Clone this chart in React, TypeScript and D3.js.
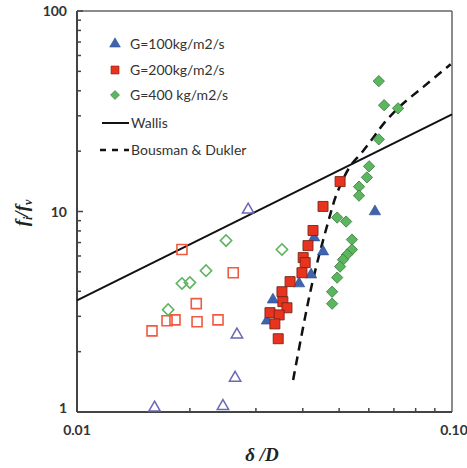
import React from "react";
import * as d3 from "d3";

// ---- data (δ/D, f_i/f_v) ----
const g100Filled: [number, number][] = [
  [0.0623, 10.0], [0.0453, 6.31], [0.0429, 7.41], [0.0421, 4.84], [0.0391, 4.37], [0.0333, 3.63], [0.0321, 2.85],
];
const g100Open: [number, number][] = [
  [0.0286, 10.2], [0.0267, 2.43], [0.0264, 1.48], [0.0161, 1.05], [0.0245, 1.07],
];
const g200Filled: [number, number][] = [
  [0.0503, 14.1], [0.0453, 10.6], [0.0426, 8.04], [0.0413, 6.76], [0.0401, 5.89], [0.0406, 5.56], [0.0398, 4.95],
  [0.037, 4.47], [0.0352, 3.98], [0.0354, 3.55], [0.0363, 3.31], [0.0327, 3.13], [0.0346, 3.05], [0.0337, 2.75], [0.0344, 2.32],
];
const g200Open: [number, number][] = [
  [0.01905, 6.46], [0.0261, 4.95], [0.0208, 3.47], [0.01585, 2.54], [0.01738, 2.85], [0.01825, 2.88], [0.0209, 2.82], [0.02377, 2.88],
];
const g400Filled: [number, number][] = [
  [0.0638, 44.7], [0.0659, 33.9], [0.0718, 32.7], [0.0638, 22.9], [0.0601, 16.8], [0.0593, 14.8], [0.0565, 13.3], [0.0565, 12.0],
  [0.0494, 9.33], [0.0522, 8.91], [0.0541, 7.24], [0.0541, 6.46], [0.0525, 6.1], [0.0512, 5.75], [0.0503, 5.31], [0.0494, 4.68],
  [0.0479, 3.98], [0.0479, 3.47],
];
const g400Open: [number, number][] = [
  [0.02497, 7.16], [0.0352, 6.46], [0.02208, 5.07], [0.01905, 4.37], [0.02, 4.42], [0.0175, 3.24],
];
const wallisLine: [number, number][] = [[0.01, 3.6], [0.1, 30.5]];
const bousmanLine: [number, number][] = [
  [0.0377, 1.445], [0.0406, 2.99], [0.0426, 4.57], [0.0467, 8.81], [0.0494, 12.4], [0.0535, 16.8], [0.0575, 19.7],
  [0.0612, 22.9], [0.0655, 27.2], [0.0727, 33.5], [0.0837, 41.7], [0.0992, 54.3],
];
const yTickLabels = ["1", "10", "100"];
const yTickValues = [1, 10, 100];
const xTickLabels = ["0.01", "0.10"];
const xTickValues = [0.01, 0.1];
const legendLabels = ["G=100kg/m2/s", "G=200kg/m2/s", "G=400 kg/m2/s", "Wallis", "Bousman & Dukler"];

const BLUE = "#3f63ad";
const RED = "#e8341f";
const GREEN = "#5cb660";
const OPEN_BLUE = "#6a66b8";
const OPEN_RED = "#ef5a40";
const OPEN_GREEN = "#5fb463";

export default function App() {
  const W = 467, H = 468;
  const L = 77, R = 452, T = 11, B = 412;
  const x = d3.scaleLog().domain([0.01, 0.1]).range([L, R]);
  const y = d3.scaleLog().domain([1, 100]).range([B, T]);
  const line = d3.line<[number, number]>().x(d => x(d[0])).y(d => y(d[1]));
  const curve = d3.line<[number, number]>().x(d => x(d[0])).y(d => y(d[1])).curve(d3.curveCatmullRom.alpha(0.5));

  const tri = d3.symbol().type(d3.symbolTriangle).size(56)()!;
  const sq = d3.symbol().type(d3.symbolSquare).size(100)()!;
  const dia = d3.symbol().type(d3.symbolSquare).size(64)()!;

  const minorX: number[] = [];
  for (let k = 2; k <= 9; k++) minorX.push(k * 0.01);
  const minorY: number[] = [];
  for (const dec of [1, 10]) for (let k = 2; k <= 9; k++) minorY.push(k * dec);

  const font = "Lato, 'Open Sans', sans-serif";

  const pts = (data: [number, number][], path: string, fill: string, stroke: string, sw: number, rot = 0) =>
    data.map((d, i) => (
      <path key={i} d={path} fill={fill} stroke={stroke} strokeWidth={sw}
        transform={`translate(${x(d[0])},${y(d[1])})${rot ? ` rotate(${rot})` : ""}`} />
    ));

  return (
    <svg width={W} height={H} style={{ position: "absolute", left: 0, top: 0, background: "#fff" }}>
      <rect x={0} y={0} width={W} height={H} fill="#fff" />
      {/* frame */}
      <line x1={L} y1={T} x2={R} y2={T} stroke="#666" strokeWidth={1.5} />
      <line x1={R} y1={T} x2={R} y2={B} stroke="#666" strokeWidth={1.5} />
      <line x1={L} y1={T} x2={L} y2={B} stroke="#444" strokeWidth={2} />
      <line x1={L} y1={B} x2={R} y2={B} stroke="#444" strokeWidth={2} />
      {/* ticks */}
      {minorX.map((v, i) => <line key={"mx" + i} x1={x(v)} x2={x(v)} y1={B} y2={B - 4} stroke="#444" strokeWidth={1.5} />)}
      {minorY.map((v, i) => <line key={"my" + i} x1={L} x2={L + 4} y1={y(v)} y2={y(v)} stroke="#444" strokeWidth={1.5} />)}
      {yTickValues.map((v, i) => <line key={"My" + i} x1={L} x2={L + 6} y1={y(v)} y2={y(v)} stroke="#444" strokeWidth={1.5} />)}
      {yTickValues.map((v, i) => (
        <text key={"yl" + i} x={L - 10} y={y(v) + (i === 0 ? 1 : 5)} textAnchor="end" fontFamily={font} fontWeight={700} fontSize={14} fill="#333">{yTickLabels[i]}</text>
      ))}
      {xTickValues.map((v, i) => (
        <text key={"xl" + i} x={x(v) + (i === 0 ? 0 : 2)} y={B + 23} textAnchor="middle" fontFamily={font} fontWeight={700} fontSize={14} fill="#333">{xTickLabels[i]}</text>
      ))}
      {/* axis titles */}
      <text x={262} y={461} textAnchor="middle" fontFamily="'Liberation Serif', serif" fontStyle="italic" fontWeight={700} fontSize={19} fill="#222">δ /D</text>
      <text transform="translate(28,213) rotate(-90)" textAnchor="middle" fontFamily="'Liberation Serif', serif" fontStyle="italic" fontWeight={700} fontSize={19} fill="#222">
        f<tspan fontSize={12} dy={4}>i</tspan><tspan dy={-4}>/f</tspan><tspan fontSize={12} dy={4}>v</tspan>
      </text>
      {/* lines */}
      <path d={line(wallisLine)!} fill="none" stroke="#111" strokeWidth={2} />
      <path d={curve(bousmanLine)!} fill="none" stroke="#111" strokeWidth={2.5} strokeDasharray="9 6" />
      {/* open markers */}
      {pts(g100Open, tri, "none", OPEN_BLUE, 1.5)}
      {pts(g200Open, sq, "none", OPEN_RED, 1.6)}
      {pts(g400Open, dia, "none", OPEN_GREEN, 1.6, 45)}
      {/* filled markers */}
      {pts(g400Filled, dia, GREEN, "#3d7d3f", 0.8, 45)}
      {pts(g100Filled, tri, BLUE, "#2a4a8a", 0.6)}
      {pts(g200Filled, sq, RED, "#7a2418", 0.9)}
      {/* legend */}
      <path d={d3.symbol().type(d3.symbolTriangle).size(50)()!} transform="translate(115,44)" fill={BLUE} stroke="#2a4a8a" strokeWidth={0.5} />
      <path d={d3.symbol().type(d3.symbolSquare).size(64)()!} transform="translate(115,70)" fill={RED} stroke="#7a2418" strokeWidth={0.6} />
      <path d={d3.symbol().type(d3.symbolSquare).size(40)()!} transform="translate(115,95) rotate(45)" fill={GREEN} stroke="#3d7d3f" strokeWidth={0.6} />
      <line x1={102} x2={129} y1={123} y2={123} stroke="#111" strokeWidth={2} />
      <line x1={100} x2={129} y1={150} y2={150} stroke="#111" strokeWidth={2.5} strokeDasharray="6 6" />
      {legendLabels.map((t, i) => (
        <text key={"lg" + i} x={i < 3 ? 130 : 131} y={[49, 75, 100, 128, 155][i]} fontFamily={font} fontSize={14} fill="#333">{t}</text>
      ))}
    </svg>
  );
}
